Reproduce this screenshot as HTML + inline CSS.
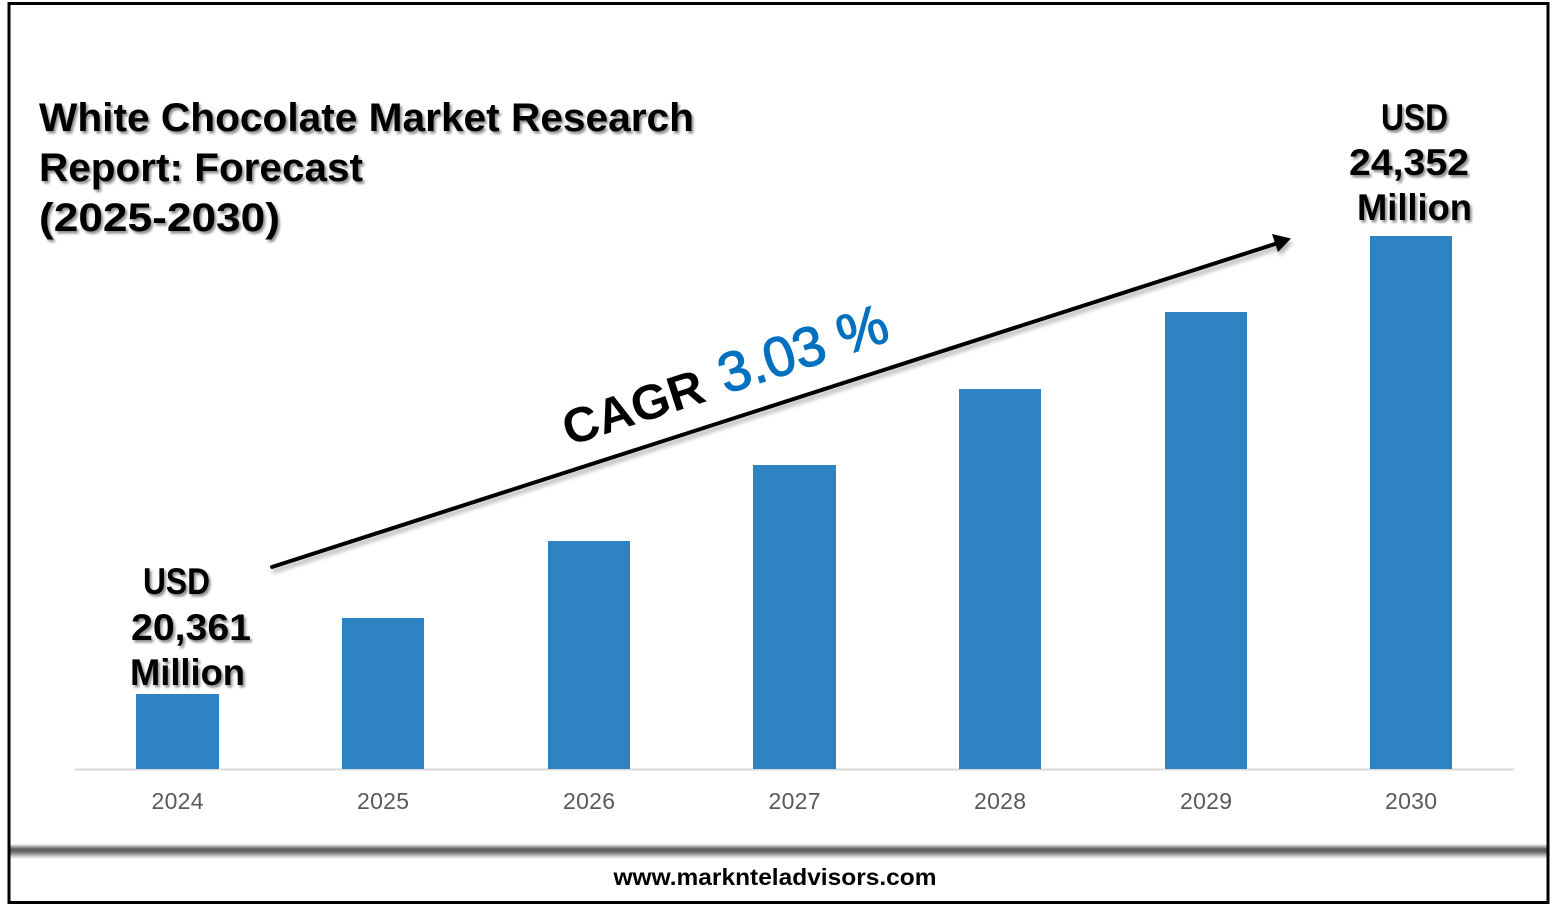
<!DOCTYPE html>
<html>
<head>
<meta charset="utf-8">
<style>
  html,body{margin:0;padding:0;background:#fff;}
  body{width:1557px;height:907px;overflow:hidden;position:relative;}
  svg{position:absolute;left:0;top:0;}
</style>
</head>
<body>
<svg width="1557" height="907" viewBox="0 0 1557 907" xmlns="http://www.w3.org/2000/svg">
  <defs>
    <linearGradient id="sep" x1="0" y1="0" x2="0" y2="1">
      <stop offset="0" stop-color="#ffffff"/>
      <stop offset="0.2" stop-color="#9a9a9a"/>
      <stop offset="0.35" stop-color="#5a5a5a"/>
      <stop offset="0.55" stop-color="#707070"/>
      <stop offset="0.8" stop-color="#c8c8c8"/>
      <stop offset="1" stop-color="#ffffff"/>
    </linearGradient>
    <filter id="ts" x="-10%" y="-10%" width="130%" height="140%">
      <feGaussianBlur in="SourceAlpha" stdDeviation="1.2"/>
      <feOffset dx="2" dy="2.5" result="o"/>
      <feComponentTransfer><feFuncA type="linear" slope="0.45"/></feComponentTransfer>
      <feMerge><feMergeNode/><feMergeNode in="SourceGraphic"/></feMerge>
    </filter>
    <filter id="ls" x="-5%" y="-20%" width="110%" height="160%">
      <feGaussianBlur in="SourceAlpha" stdDeviation="2"/>
      <feOffset dx="2" dy="4" result="o"/>
      <feComponentTransfer><feFuncA type="linear" slope="0.3"/></feComponentTransfer>
      <feMerge><feMergeNode/><feMergeNode in="SourceGraphic"/></feMerge>
    </filter>
  </defs>

  <!-- outer frame -->
  <rect x="9" y="3.5" width="1539" height="899" fill="#fff" stroke="#000" stroke-width="3"/>
  <!-- separator shadow band -->
  <rect x="10.5" y="844" width="1536" height="15" fill="url(#sep)"/>

  <!-- axis line -->
  <line x1="75" y1="769.5" x2="1514" y2="769.5" stroke="#d9d9d9" stroke-width="2"/>

  <!-- bars -->
  <g fill="#2E83C3">
    <rect x="136" y="694" width="83" height="75"/>
    <rect x="342" y="618" width="82" height="151"/>
    <rect x="548" y="541" width="82" height="228"/>
    <rect x="753" y="465" width="83" height="304"/>
    <rect x="959" y="389" width="82" height="380"/>
    <rect x="1165" y="312" width="82" height="457"/>
    <rect x="1370" y="236" width="82" height="533"/>
  </g>

  <!-- year labels -->
  <g font-family="Liberation Sans, sans-serif" font-size="23" fill="#595959" text-anchor="middle">
    <text x="177.5" y="809" textLength="52">2024</text>
    <text x="383" y="809" textLength="52">2025</text>
    <text x="589" y="809" textLength="52">2026</text>
    <text x="794.5" y="809" textLength="52">2027</text>
    <text x="1000" y="809" textLength="52">2028</text>
    <text x="1206" y="809" textLength="52">2029</text>
    <text x="1411" y="809" textLength="52">2030</text>
  </g>

  <!-- title -->
  <g font-family="Liberation Sans, sans-serif" font-weight="bold" font-size="40" fill="#000" filter="url(#ts)">
    <text x="39" y="131" textLength="655" lengthAdjust="spacingAndGlyphs">White Chocolate Market Research</text>
    <text x="39" y="181" textLength="324" lengthAdjust="spacingAndGlyphs">Report: Forecast</text>
    <text x="39" y="231" textLength="241" lengthAdjust="spacingAndGlyphs">(2025-2030)</text>
  </g>

  <!-- left value label -->
  <g font-family="Liberation Sans, sans-serif" font-weight="bold" font-size="37" fill="#000" filter="url(#ts)">
    <text x="143" y="594" textLength="67" lengthAdjust="spacingAndGlyphs">USD</text>
    <text x="131" y="640" textLength="120" lengthAdjust="spacingAndGlyphs">20,361</text>
    <text x="130" y="685" textLength="115" lengthAdjust="spacingAndGlyphs">Million</text>
  </g>

  <!-- right value label -->
  <g font-family="Liberation Sans, sans-serif" font-weight="bold" font-size="37" fill="#000" filter="url(#ts)">
    <text x="1381" y="130" textLength="67" lengthAdjust="spacingAndGlyphs">USD</text>
    <text x="1349" y="175" textLength="120" lengthAdjust="spacingAndGlyphs">24,352</text>
    <text x="1357" y="220" textLength="115" lengthAdjust="spacingAndGlyphs">Million</text>
  </g>

  <!-- arrow -->
  <g filter="url(#ls)">
    <line x1="272" y1="567" x2="1278" y2="243" stroke="#000" stroke-width="4" stroke-linecap="round"/>
    <polygon points="1291,238.5 1272,234 1278,252" fill="#000"/>
  </g>

  <!-- CAGR text -->
  <g transform="translate(569,446) rotate(-18)">
    <text x="0" y="0" font-family="Liberation Sans, sans-serif" font-weight="bold" font-size="49" fill="#000" textLength="146" lengthAdjust="spacingAndGlyphs">CAGR</text>
    <text x="165" y="-1" font-family="Liberation Sans, sans-serif" font-size="56" fill="#0070C0" stroke="#0070C0" stroke-width="1.2" textLength="175" lengthAdjust="spacingAndGlyphs">3.03 %</text>
  </g>

  <!-- website -->
  <text x="775" y="885" text-anchor="middle" font-family="Liberation Sans, sans-serif" font-weight="bold" font-size="23" fill="#000" textLength="323" lengthAdjust="spacingAndGlyphs">www.marknteladvisors.com</text>
</svg>
</body>
</html>
